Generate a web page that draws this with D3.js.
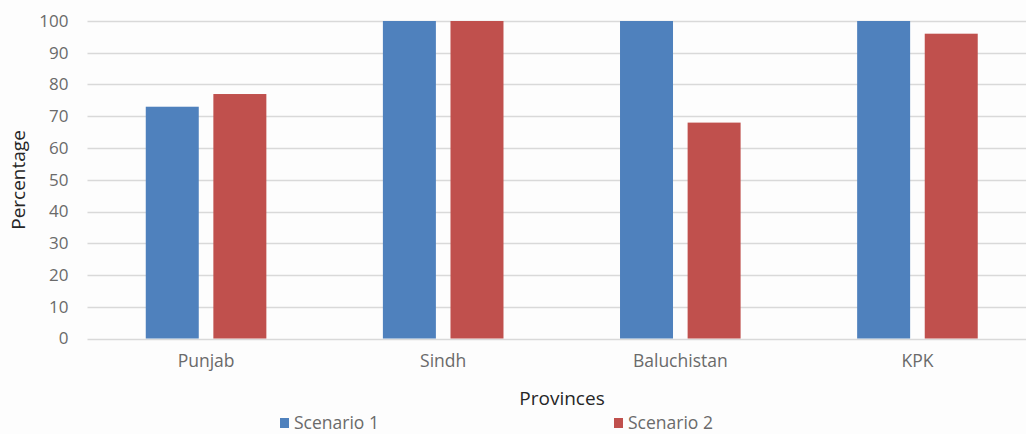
<!DOCTYPE html>
<html>
<head>
<meta charset="utf-8">
<script src="https://cdn.jsdelivr.net/npm/d3@7"></script>
<style>
  body { margin: 0; background: #ffffff; }
  svg { display: block; }
</style>
</head>
<body>
<div id="chart"></div>
<script>
const provinces = ["Punjab", "Sindh", "Baluchistan", "KPK"];
const seriesNames = ["Scenario 1", "Scenario 2"];
const scenario1 = [73, 100, 100, 100];
const scenario2 = [77, 100, 68, 96];
const yTicks = [0, 10, 20, 30, 40, 50, 60, 70, 80, 90, 100];
const colors = ["#4f81bd", "#c0504d"];

const W = 1026, H = 434;
const font = "'Open Sans', Lato, sans-serif";

const svg = d3.select("#chart")
    .append("svg")
    .attr("width", W)
    .attr("height", H)
    .style("font-family", font);

svg.append("rect")
    .attr("x", 0).attr("y", 0)
    .attr("width", W).attr("height", H)
    .attr("fill", "#fdfdfd");

// plot area (runs past the right edge, as in the reference)
const plotLeft = 87.5, plotRight = 1036, plotTop = 21, plotBottom = 338.5;

const x0 = d3.scaleBand()
    .domain(provinces)
    .range([plotLeft, plotRight])
    .padding(0);

const x1 = d3.scaleBand()
    .domain(seriesNames)
    .range([0, x0.bandwidth()])
    .paddingInner(0.216)
    .paddingOuter(0.862);

const y = d3.scaleLinear()
    .domain([0, 100])
    .range([plotBottom, plotTop]);

// gridlines
svg.append("g")
    .selectAll("line")
    .data(yTicks)
    .enter()
    .append("line")
    .attr("x1", plotLeft)
    .attr("x2", plotRight)
    .attr("y1", d => Math.round(y(d)) + 0.5)
    .attr("y2", d => Math.round(y(d)) + 0.5)
    .attr("stroke", "#d9d9d9")
    .attr("stroke-width", 1.3);

// y tick labels
const yAxis = svg.append("g")
    .attr("transform", `translate(${plotLeft},0)`)
    .call(d3.axisLeft(y).tickValues(yTicks).tickSize(0).tickPadding(19));
yAxis.select(".domain").remove();
yAxis.selectAll("text")
    .style("font-family", font)
    .style("font-size", "17px")
    .attr("fill", "#6a6a6a");

// x tick labels
const xAxis = svg.append("g")
    .attr("transform", `translate(0,${plotBottom})`)
    .call(d3.axisBottom(x0).tickSize(0).tickPadding(16));
xAxis.select(".domain").remove();
xAxis.selectAll("text")
    .style("font-family", font)
    .style("font-size", "17.5px")
    .attr("fill", "#6a6a6a");

// bars
const rows = provinces.map((p, i) => ({
    province: p,
    values: [
        {series: seriesNames[0], value: scenario1[i]},
        {series: seriesNames[1], value: scenario2[i]}
    ]
}));

const color = d3.scaleOrdinal().domain(seriesNames).range(colors);

svg.append("g")
    .selectAll("g")
    .data(rows)
    .enter()
    .append("g")
    .attr("transform", d => `translate(${x0(d.province)},0)`)
    .selectAll("rect")
    .data(d => d.values)
    .enter()
    .append("rect")
    .attr("x", d => x1(d.series))
    .attr("width", x1.bandwidth())
    .attr("y", d => y(d.value))
    .attr("height", d => y(0) - y(d.value))
    .attr("fill", d => color(d.series));

// axis titles
svg.append("text")
    .attr("x", 562)
    .attr("y", 405)
    .attr("text-anchor", "middle")
    .attr("fill", "#262626")
    .style("font-size", "19px")
    .text("Provinces");

svg.append("text")
    .attr("transform", "rotate(-90)")
    .attr("x", -180)
    .attr("y", 25)
    .attr("text-anchor", "middle")
    .attr("fill", "#262626")
    .style("font-size", "19px")
    .text("Percentage");

// legend
const legendX = [280, 614];
const legend = svg.append("g")
    .selectAll("g")
    .data(seriesNames)
    .enter()
    .append("g")
    .attr("transform", (d, i) => `translate(${legendX[i]},418)`);

legend.append("rect")
    .attr("width", 9)
    .attr("height", 10)
    .attr("fill", d => color(d));

legend.append("text")
    .attr("x", 14)
    .attr("y", 10.5)
    .attr("fill", "#6a6a6a")
    .style("font-size", "17.5px")
    .text(d => d);
</script>
</body>
</html>
